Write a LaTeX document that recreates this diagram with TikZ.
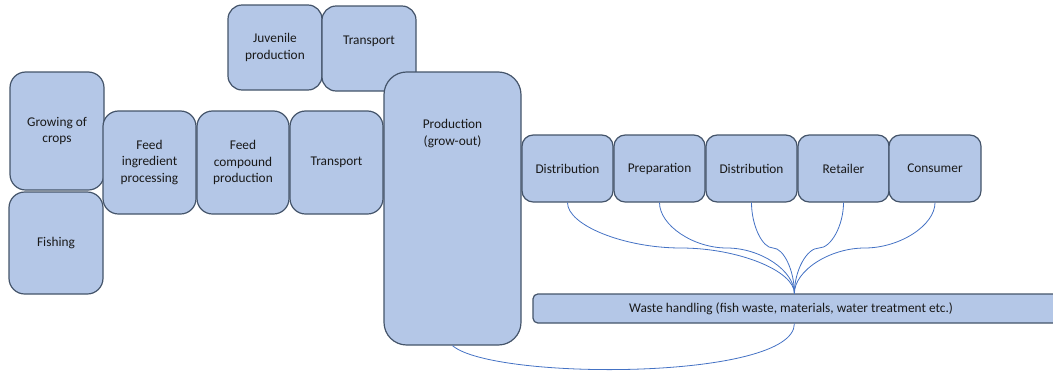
\documentclass[tikz,border=0pt]{standalone}
\usepackage{fontspec}
\setmainfont{Carlito}
\usetikzlibrary{calc}
\definecolor{boxfill}{HTML}{B4C7E7}
\definecolor{boxline}{HTML}{44546A}
\definecolor{wirecol}{HTML}{4472C4}
\begin{document}
\begin{tikzpicture}[x=0.75pt,y=-0.75pt,
  stage/.style={draw=boxline, fill=boxfill, line width=0.9pt, rectangle,
    inner sep=0pt, align=center, text=black!90,
    font=\fontsize{10}{12.4}\selectfont},
  sz/.style 2 args={minimum width=#1*0.75pt, minimum height=#2*0.75pt},
  label text/.style={align=center, text=black!90, inner sep=0pt,
    font=\fontsize{10}{12.4}\selectfont},
  wire/.style={draw=wirecol, line width=0.6pt}]
\useasboundingbox (0,0) rectangle (1053,372);

% feed chain
\node[stage, sz={94}{118}, rounded corners=11.8pt] (crops) at (57,131) {Growing of\\crops};
\node[stage, sz={94}{102}, rounded corners=11.8pt] (fish) at (56,243) {Fishing};
\node[stage, sz={93}{103}, rounded corners=11.6pt] (ingr) at (149.5,162.5) {Feed\\ingredient\\processing};
\node[stage, sz={92}{103}, rounded corners=11.6pt] (comp) at (243,162.5) {Feed\\compound\\production};
\node[stage, sz={93}{103}, rounded corners=11.6pt] (trans) at (336.5,162.5) {Transport};

% juvenile chain
\node[stage, sz={94}{85}, rounded corners=10.6pt] (juv) at (275,47.5) {Juvenile\\production};
\node[stage, sz={94}{85}, rounded corners=10.6pt] (jtrans) at (369,48.5) {};
\node[label text] (jtranstext) at (369,41) {Transport};

% grow-out
\node[stage, sz={137}{273}, rounded corners=17pt] (prod) at (452.5,208.5) {};
\node[label text] (prodtext) at (452.5,133.5) {Production\\(grow-out)};

% downstream chain
\node[stage, sz={91}{67}, rounded corners=8.4pt] (dist1) at (567.5,168.5) {Distribution};
\node[stage, sz={91}{67}, rounded corners=8.4pt] (prep) at (659.5,168.5) {Preparation};
\node[stage, sz={91}{67}, rounded corners=8.4pt] (dist2) at (751.5,168.5) {Distribution};
\node[stage, sz={91}{67}, rounded corners=8.4pt] (ret) at (843.5,168.5) {Retailer};
\node[stage, sz={92}{67}, rounded corners=8.4pt] (cons) at (935,168.5) {Consumer};

% waste handling
\node[stage, sz={527}{29}, rounded corners=3.6pt] (waste) at (796.5,308.5) {};
\node[label text] (wastetext) at (791,308.5) {Waste handling (fish waste, materials, water treatment etc.)};
\coordinate (wtop) at ($(waste.north west)+(262,0)$);
\coordinate (wbot) at ($(waste.south west)+(262,0)$);

% curved connectors into waste handling
\foreach \src in {dist1,prep,dist2,ret,cons}{
  \draw[wire] let \p1=(\src.south), \p2=(wtop),
      \p3=($(\p1)!0.25!(\p2)$), \p4=($(\p1)!0.5!(\p2)$), \p5=($(\p1)!0.75!(\p2)$) in
    (\p1) .. controls (\x1,\y3) and (\x3,\y4) .. (\p4)
          .. controls (\x5,\y4) and (\x2,\y5) .. (\p2);
}
\draw[wire] (prod.south) .. controls +(40,35) and +(0,57) .. (wbot);
\end{tikzpicture}
\end{document}
